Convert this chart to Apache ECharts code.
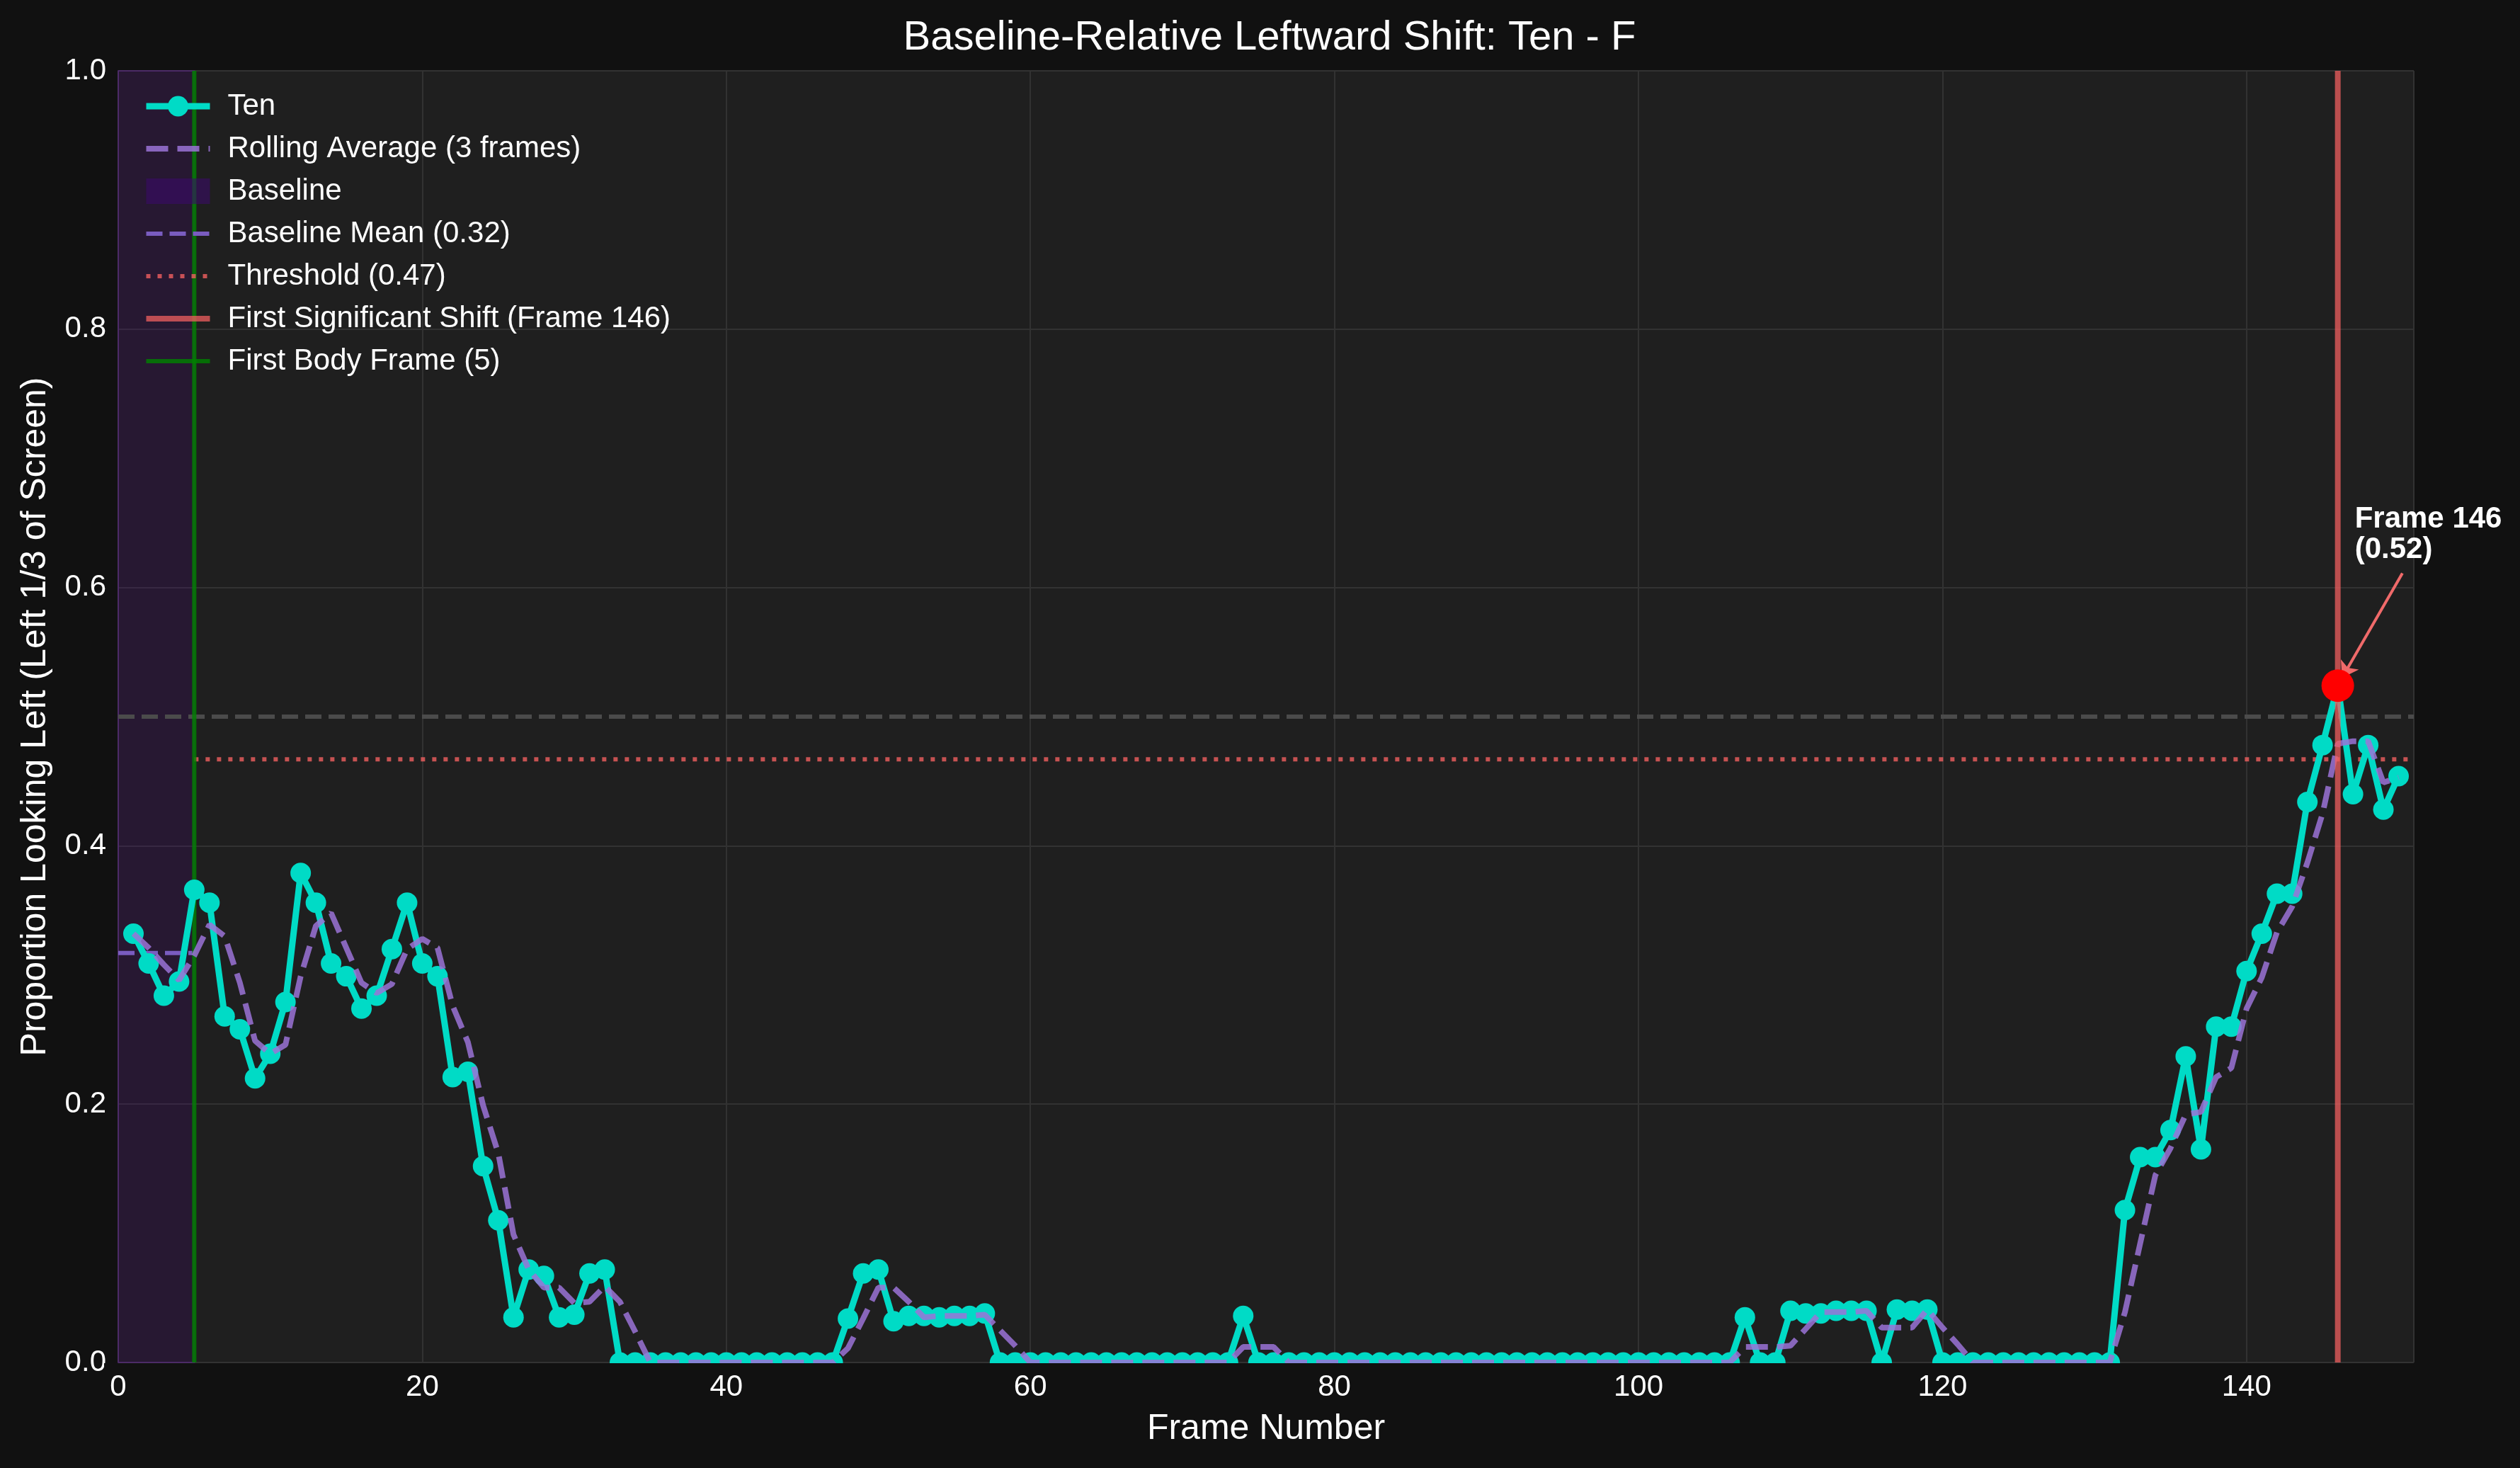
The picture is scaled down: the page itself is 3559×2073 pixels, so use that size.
<!DOCTYPE html>
<html>
<head>
<meta charset="utf-8">
<script src="https://cdn.jsdelivr.net/npm/echarts@6/dist/echarts.min.js"></script>
<style>
  html, body { margin: 0; padding: 0; background: #111111; }
  #chart { width: 3559px; height: 2073px; }
</style>
</head>
<body>
<div id="chart"></div>
<script>
// ---------------- data ----------------
const titleText = 'Baseline-Relative Leftward Shift: Ten - F';
const xAxisName = 'Frame Number';
const yAxisName = 'Proportion Looking Left (Left 1/3 of Screen)';

const frames = [
  1,2,3,4,5,6,7,8,9,10,11,12,13,14,15,16,17,18,19,20,
  21,22,23,24,25,26,27,28,29,30,31,32,33,34,35,36,37,38,39,40,
  41,42,43,44,45,46,47,48,49,50,51,52,53,54,55,56,57,58,59,60,
  61,62,63,64,65,66,67,68,69,70,71,72,73,74,75,76,77,78,79,80,
  81,82,83,84,85,86,87,88,89,90,91,92,93,94,95,96,97,98,99,100,
  101,102,103,104,105,106,107,108,109,110,111,112,113,114,115,116,117,118,119,120,
  121,122,123,124,125,126,127,128,129,130,131,132,133,134,135,136,137,138,139,140,
  141,142,143,144,145,146,147,148,149,150
];

const tenValues = [
  0.332,0.309,0.284,0.295,0.366,0.356,0.268,0.258,0.220,0.239,
  0.279,0.379,0.356,0.309,0.299,0.274,0.284,0.320,0.356,0.309,
  0.299,0.221,0.225,0.152,0.110,0.035,0.072,0.067,0.035,0.037,
  0.069,0.072,0,0,0,0,0,0,0,0,
  0,0,0,0,0,0,0,0.034,0.069,0.072,
  0.032,0.036,0.036,0.035,0.036,0.036,0.038,0,0,0,
  0,0,0,0,0,0,0,0,0,0,
  0,0,0,0.036,0,0,0,0,0,0,
  0,0,0,0,0,0,0,0,0,0,
  0,0,0,0,0,0,0,0,0,0,
  0,0,0,0,0,0,0.035,0,0,0.040,
  0.038,0.038,0.040,0.040,0.040,0,0.041,0.040,0.041,0,
  0,0,0,0,0,0,0,0,0,0,
  0,0.118,0.159,0.159,0.180,0.237,0.165,0.260,0.260,0.303,
  0.332,0.363,0.363,0.434,0.478,0.524,0.440,0.478,0.428,0.454
];

const rollingValues = [
  0.332,0.321,0.308,0.296,0.315,0.339,0.330,0.294,0.249,0.239,
  0.246,0.299,0.338,0.348,0.321,0.294,0.286,0.293,0.320,0.328,
  0.321,0.276,0.248,0.199,0.162,0.099,0.072,0.058,0.058,0.046,
  0.047,0.059,0.047,0.024,0,0,0,0,0,0,
  0,0,0,0,0,0,0,0.011,0.034,0.058,
  0.058,0.047,0.035,0.036,0.036,0.036,0.037,0.025,0.013,0,
  0,0,0,0,0,0,0,0,0,0,
  0,0,0,0.012,0.012,0.012,0,0,0,0,
  0,0,0,0,0,0,0,0,0,0,
  0,0,0,0,0,0,0,0,0,0,
  0,0,0,0,0,0,0.012,0.012,0.012,0.013,
  0.026,0.039,0.039,0.039,0.040,0.027,0.027,0.027,0.041,0.027,
  0.014,0,0,0,0,0,0,0,0,0,
  0,0.039,0.092,0.145,0.166,0.192,0.194,0.221,0.228,0.274,
  0.298,0.333,0.353,0.387,0.425,0.479,0.481,0.481,0.449,0.453
];

const xRange = [0, 151];
const yTicks = [0.0, 0.2, 0.4, 0.6, 0.8, 1.0];
const baselineRange = [0, 5];
const baselineMean = 0.317;
const thresholdValue = 0.467;
const referenceLevel = 0.5;
const firstBodyFrame = 5;
const shiftFrame = 146;
const shiftValue = 0.524;
const annotationText = 'Frame 146\n(0.52)';
const arrowStart = [150.25, 0.611];
const arrowEnd = [146.28, 0.530];

const legendNames = [
  'Ten',
  'Rolling Average (3 frames)',
  'Baseline',
  'Baseline Mean (0.32)',
  'Threshold (0.47)',
  'First Significant Shift (Frame 146)',
  'First Body Frame (5)'
];

// ---------------- chart ----------------
const FONT = '"Liberation Sans", Arial, Helvetica, sans-serif';
const GRID = { left: 167, right: 150, top: 100, bottom: 149 };
const W = 3559, H = 2073;
const tenData = frames.map((f, i) => [f, tenValues[i]]);
const rollData = frames.map((f, i) => [f, rollingValues[i]]);

const chart = echarts.init(document.getElementById('chart'), null, { renderer: 'canvas' });

const hideSymbol = { opacity: 0 };

const option = {
  backgroundColor: '#111111',
  animation: false,
  title: {
    text: titleText,
    left: 1788,
    top: 20,
    textAlign: 'center',
    textStyle: { color: '#ffffff', fontSize: 58, fontWeight: 'normal', fontFamily: FONT }
  },
  grid: {
    left: GRID.left, right: GRID.right, top: GRID.top, bottom: GRID.bottom,
    show: true, backgroundColor: '#1f1f1f', borderColor: '#2b2b2b', borderWidth: 1
  },
  legend: {
    orient: 'vertical',
    left: 202,
    top: 129,
    padding: 0,
    itemWidth: 90,
    itemHeight: 36,
    itemGap: 18,
    lineStyle: { width: 'inherit' },
    textStyle: { color: '#ffffff', fontSize: 42, fontFamily: FONT, padding: [0, 0, 0, 20] },
    data: [
      { name: legendNames[0], itemStyle: { opacity: 1 } },
      { name: legendNames[1], itemStyle: hideSymbol },
      { name: legendNames[2], icon: 'rect', itemStyle: { color: 'rgba(60,10,110,0.55)', opacity: 1 } },
      { name: legendNames[3], itemStyle: hideSymbol },
      { name: legendNames[4], itemStyle: hideSymbol },
      { name: legendNames[5], itemStyle: hideSymbol },
      { name: legendNames[6], itemStyle: hideSymbol }
    ]
  },
  xAxis: {
    type: 'value',
    min: xRange[0], max: xRange[1], interval: 20,
    name: xAxisName, nameLocation: 'middle', nameGap: 69,
    nameTextStyle: { color: '#ffffff', fontSize: 50, fontFamily: FONT },
    axisLine: { show: false }, axisTick: { show: false },
    axisLabel: { color: '#ffffff', fontSize: 42, fontFamily: FONT, margin: 14, showMaxLabel: false },
    splitLine: { show: true, lineStyle: { color: '#323232', width: 2 } }
  },
  yAxis: {
    type: 'value',
    min: yTicks[0], max: yTicks[yTicks.length - 1], interval: 0.2,
    name: yAxisName, nameLocation: 'middle', nameGap: 92, nameRotate: 90,
    nameTextStyle: { color: '#ffffff', fontSize: 50, fontFamily: FONT },
    axisLine: { show: false }, axisTick: { show: false },
    axisLabel: { color: '#ffffff', fontSize: 42, fontFamily: FONT, margin: 17,
      formatter: v => v.toFixed(1) },
    splitLine: { show: true, lineStyle: { color: '#323232', width: 2 } }
  },
  graphic: [
    {
      // mask so markers sitting on y = 0 are clipped at the plot edge
      type: 'rect',
      z: 100,
      silent: true,
      shape: { x: GRID.left - 20, y: H - GRID.bottom + 1, width: W - GRID.left - GRID.right + 40, height: 16 },
      style: { fill: '#111111' }
    }
  ],
  series: [
    {
      name: legendNames[2],
      type: 'line',
      data: [],
      color: 'rgba(75,0,130,0.2)',
      z: 1,
      markArea: {
        silent: true,
        itemStyle: { color: 'rgba(75,0,130,0.2)', borderColor: 'rgba(110,40,170,0.4)', borderWidth: 2 },
        data: [[{ xAxis: baselineRange[0] }, { xAxis: baselineRange[1] }]]
      }
    },
    {
      name: 'Reference 0.5',
      type: 'line',
      data: [[xRange[0], referenceLevel], [xRange[1], referenceLevel]],
      symbol: 'none',
      z: 2,
      lineStyle: { color: '#4b4b4b', width: 6, type: [23, 10], cap: 'butt' },
      color: '#4b4b4b'
    },
    {
      name: legendNames[3],
      type: 'line',
      data: [[baselineRange[0], baselineMean], [baselineRange[1], baselineMean]],
      symbol: 'none',
      z: 2,
      color: '#7a5cc0',
      lineStyle: { color: '#7a5cc0', width: 6, type: [23, 10], cap: 'butt' }
    },
    {
      name: legendNames[4],
      type: 'line',
      data: [[firstBodyFrame, thresholdValue], [xRange[1], thresholdValue]],
      symbol: 'none',
      z: 2,
      color: 'rgba(240,95,95,0.8)',
      lineStyle: { color: 'rgba(240,95,95,0.8)', width: 6, type: [6, 10], cap: 'butt' }
    },
    {
      name: legendNames[6],
      type: 'line',
      data: [[firstBodyFrame, yTicks[0]], [firstBodyFrame, yTicks[yTicks.length - 1]]],
      symbol: 'none',
      z: 2,
      color: 'rgba(0,128,0,0.82)',
      lineStyle: { color: 'rgba(0,128,0,0.82)', width: 6 }
    },
    {
      name: legendNames[0],
      type: 'line',
      data: tenData,
      z: 3,
      color: '#00dbc6',
      symbol: 'circle',
      symbolSize: 29,
      showSymbol: true,
      lineStyle: { color: '#00dbc6', width: 9 },
      itemStyle: { color: '#00dbc6', opacity: 1 }
    },
    {
      name: legendNames[1],
      type: 'line',
      data: rollData,
      z: 4,
      symbol: 'none',
      color: 'rgba(155,115,215,0.85)',
      lineStyle: { color: 'rgba(155,115,215,0.85)', width: 8, type: [31, 13], cap: 'butt' }
    },
    {
      name: legendNames[5],
      type: 'line',
      data: [[shiftFrame, yTicks[0]], [shiftFrame, yTicks[yTicks.length - 1]]],
      symbol: 'none',
      z: 5,
      color: 'rgba(240,95,95,0.75)',
      lineStyle: { color: 'rgba(240,95,95,0.75)', width: 8 }
    },
    {
      name: 'Shift Point',
      type: 'scatter',
      data: [[shiftFrame, shiftValue]],
      z: 6,
      symbol: 'circle',
      symbolSize: 46,
      itemStyle: { color: '#ff0000', opacity: 1 },
      label: {
        show: true,
        formatter: annotationText,
        position: [47, -233],
        align: 'left',
        verticalAlign: 'top',
        color: '#ffffff',
        opacity: 1,
        fontSize: 42,
        fontWeight: 'bold',
        lineHeight: 43,
        fontFamily: FONT
      },
      markLine: {
        silent: true,
        symbol: ['none', 'arrow'],
        symbolSize: 22,
        label: { show: false },
        lineStyle: { color: '#f06a6a', width: 4, type: 'solid', opacity: 1 },
        data: [[{ coord: arrowStart }, { coord: arrowEnd }]]
      }
    }
  ]
};

chart.setOption(option);
</script>
</body>
</html>
